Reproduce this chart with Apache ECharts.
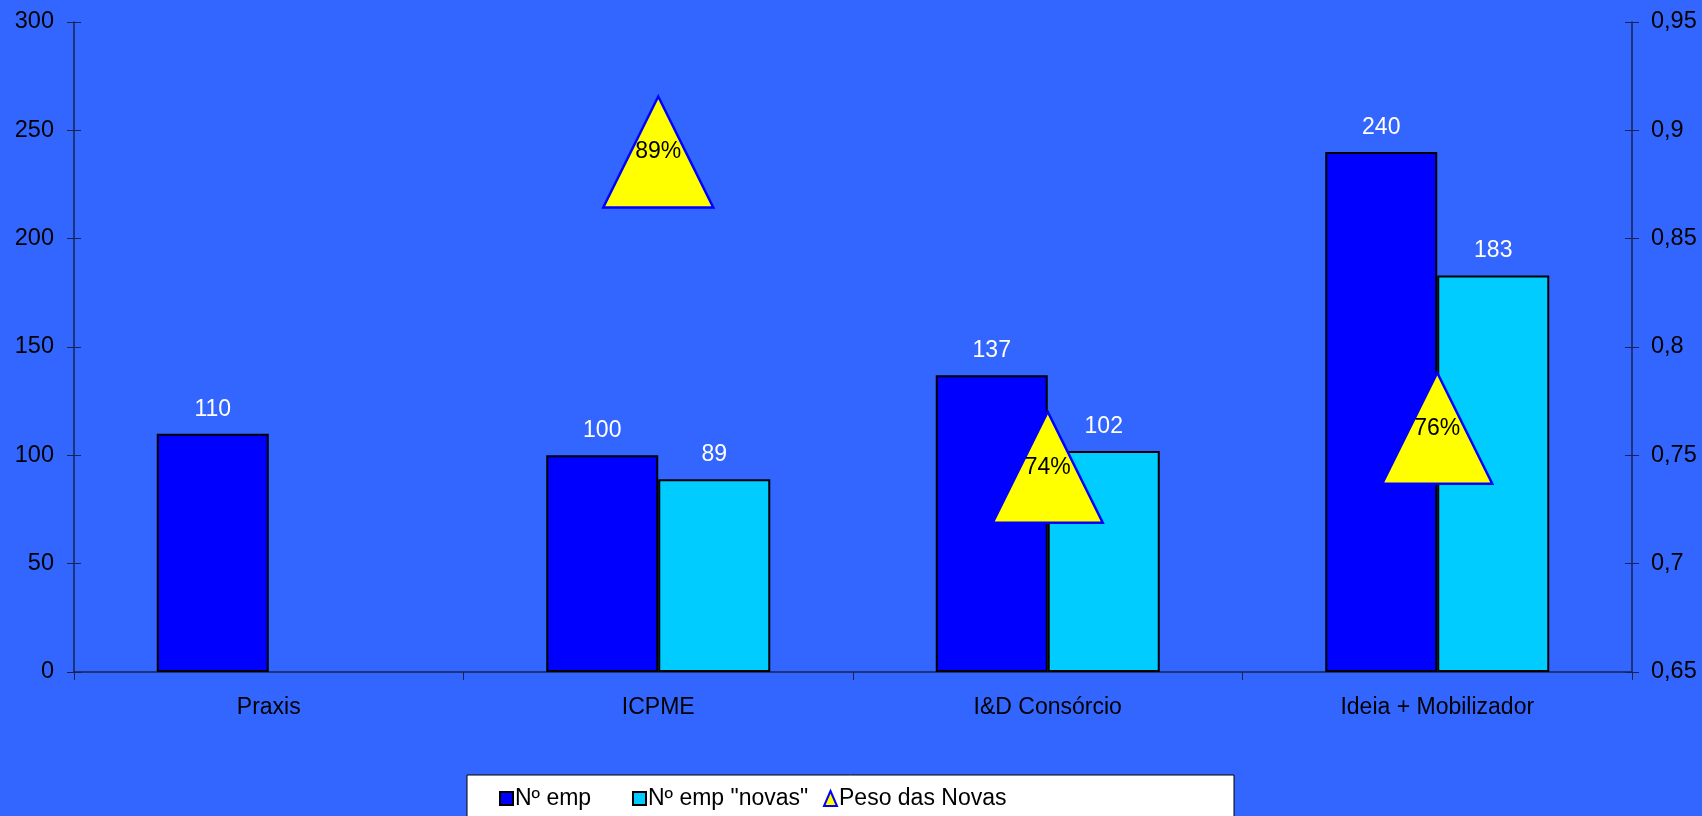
<!DOCTYPE html>
<html>
<head>
<meta charset="utf-8">
<script src="https://cdn.jsdelivr.net/npm/echarts@6/dist/echarts.min.js"></script>
<style>
  html, body { margin: 0; padding: 0; background: #3366ff; }
  #chart { width: 1702px; height: 816px; }
</style>
</head>
<body>
<div id="chart"></div>
<script>
// categorias
const categories = ['Praxis', 'ICPME', 'I&D Consórcio', 'Ideia + Mobilizador']
// Nº emp
const nEmp = [110, 100, 137, 240]
// Nº emp "novas"
const nEmpNovas = [null, 89, 102, 183]
// Peso das Novas (eixo da direita)
const pesoNovas = [null, 0.89, 0.7445, 0.7625]

const fontFamily = "'Liberation Sans', Arial, sans-serif"
const axisColor = '#17244f'

const chart = echarts.init(document.getElementById('chart'))

const legendBase = {
  top: 787,
  padding: 0,
  itemWidth: 13,
  itemHeight: 13,
  itemGap: 0,
  icon: 'rect',
  selectedMode: false,
  textStyle: {
    color: '#000',
    fontSize: 23,
    fontFamily: "'Liberation Sans Narrow', 'Arial Narrow', " + fontFamily,
    padding: [0, 0, 0, -3]
  }
}

const option = {
  backgroundColor: '#3366ff',
  animation: false,
  textStyle: { fontFamily: fontFamily },
  graphic: [
    {
      type: 'rect',
      z: 0,
      shape: { x: 467, y: 775, width: 767, height: 60 },
      style: { fill: '#fff', stroke: '#000', lineWidth: 1 }
    }
  ],
  legend: [
    Object.assign({}, legendBase, { left: 499, data: ['Nº emp'] }),
    Object.assign({}, legendBase, { left: 632, data: ['Nº emp "novas"'] }),
    Object.assign({}, legendBase, { left: 823, icon: 'triangle', itemHeight: 15, data: ['Peso das Novas'] })
  ],
  grid: {
    left: 74,
    right: 70,
    top: 22,
    bottom: 144,
    containLabel: false
  },
  xAxis: {
    type: 'category',
    data: categories,
    axisLine: { lineStyle: { color: axisColor, width: 1.5 } },
    axisTick: { show: true, length: 8, lineStyle: { color: axisColor } },
    axisLabel: {
      color: '#000',
      fontSize: 23,
      margin: 24,
      fontFamily: fontFamily
    },
    splitLine: { show: false }
  },
  yAxis: [
    {
      type: 'value',
      min: 0,
      max: 300,
      interval: 50,
      position: 'left',
      axisLine: { show: true, lineStyle: { color: axisColor, width: 1.5 } },
      axisTick: { show: true, length: 7, lineStyle: { color: axisColor } },
      axisLabel: { color: '#000', fontSize: 23.5, margin: 20, fontFamily: fontFamily },
      splitLine: { show: false }
    },
    {
      type: 'value',
      min: 0.65,
      max: 0.95,
      interval: 0.05,
      position: 'right',
      axisLine: { show: true, lineStyle: { color: axisColor, width: 1.5 } },
      axisTick: { show: true, length: 7, lineStyle: { color: axisColor } },
      axisLabel: {
        color: '#000',
        fontSize: 23.5,
        margin: 19,
        fontFamily: fontFamily,
        formatter: v => String(parseFloat(v.toFixed(2))).replace('.', ',')
      },
      splitLine: { show: false }
    },
    // eixos extra só para os tiques a cruzar a linha
    {
      type: 'value',
      min: 0,
      max: 300,
      interval: 50,
      position: 'left',
      axisLine: { show: false },
      axisTick: { show: true, inside: true, length: 7, lineStyle: { color: axisColor } },
      axisLabel: { show: false },
      splitLine: { show: false }
    },
    {
      type: 'value',
      min: 0.65,
      max: 0.95,
      interval: 0.05,
      position: 'right',
      axisLine: { show: false },
      axisTick: { show: true, inside: true, length: 7, lineStyle: { color: axisColor } },
      axisLabel: { show: false },
      splitLine: { show: false }
    }
  ],
  series: [
    {
      name: 'Nº emp',
      type: 'bar',
      data: nEmp,
      barWidth: 112,
      barGap: '0%',
      itemStyle: { color: '#0000ff', borderColor: '#000', borderWidth: 2 },
      label: {
        show: true,
        position: 'top',
        distance: 13,
        color: '#fff',
        fontSize: 23,
        fontFamily: fontFamily
      }
    },
    {
      name: 'Nº emp "novas"',
      type: 'bar',
      data: nEmpNovas,
      barWidth: 112,
      barGap: '0%',
      itemStyle: { color: '#00ccff', borderColor: '#000', borderWidth: 2 },
      label: {
        show: true,
        position: 'top',
        distance: 13,
        color: '#fff',
        fontSize: 23,
        fontFamily: fontFamily
      }
    },
    {
      name: 'Peso das Novas',
      type: 'scatter',
      yAxisIndex: 1,
      data: pesoNovas,
      z: 5,
      symbol: 'triangle',
      symbolSize: [110, 111],
      itemStyle: { color: '#ffff00', borderColor: '#0000ff', borderWidth: 2.5, opacity: 1 },
      label: {
        show: true,
        position: 'inside',
        color: '#000',
        fontSize: 23,
        fontFamily: fontFamily,
        formatter: p => Math.round(p.value * 100) + '%'
      }
    }
  ]
}

chart.setOption(option)
</script>
</body>
</html>
